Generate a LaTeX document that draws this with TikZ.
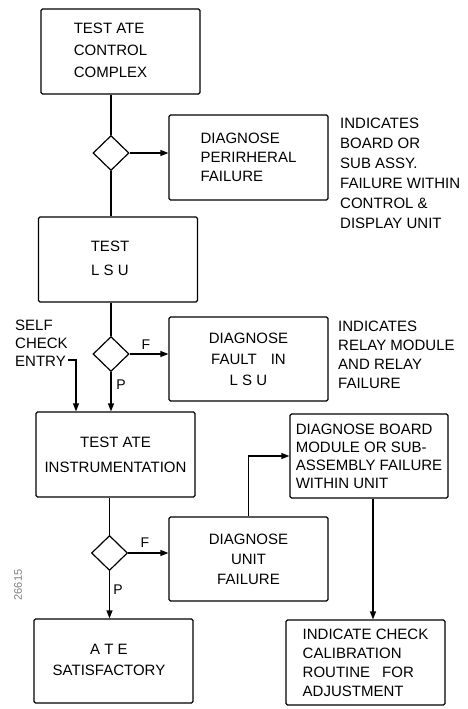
\documentclass[tikz,border=0pt]{standalone}
\usepackage{fontspec}
\setmainfont{Liberation Sans}
\usetikzlibrary{shapes.geometric,arrows.meta}
\begin{document}
\begin{tikzpicture}[x=1pt,y=-1pt,
  box/.style={draw,line width=1.2pt,rounded corners=1.5pt,minimum width=159pt,minimum height=85pt,inner sep=0pt,align=center,font=\fontsize{15}{20}\selectfont},
  dia/.style={draw,line width=1.2pt,shape=diamond,minimum width=36pt,minimum height=35pt,inner sep=0pt},
  conn/.style={line width=1.2pt},
  arr/.style={line width=1.2pt,-{Triangle[length=8pt,width=6pt]}},
  note/.style={align=left,inner sep=0pt,font=\fontsize{15}{20}\selectfont},
  lbl/.style={inner sep=0pt,font=\fontsize{14}{16}\selectfont}]
\useasboundingbox (0,0) rectangle (468,709);
\fill[white] (0,0) rectangle (468,709);

% boxes
\node[box] (b1) at (120.5,51.5) {\begin{tabular}{@{}l@{\hspace{20pt}}}TEST ATE\\[2pt]CONTROL\\[2pt]COMPLEX\end{tabular}};
\node[box,align=left,font=\fontsize{15}{19}\selectfont] (per) at (248.5,157.5) {DIAGNOSE\\PERIRHERAL\\FAILURE};
\node[box] (lsu) at (118,259.5) {\begin{tabular}{@{}c@{\hspace{16pt}}}TEST\\[4pt]L S U\end{tabular}};
\node[box,minimum height=84pt,font=\fontsize{15}{21}\selectfont] (flsu) at (248.5,359) {DIAGNOSE\\FAULT\hspace{14pt}IN\\L S U};
\node[box] (instr) at (115.5,454.5) {TEST ATE\\[5pt]INSTRUMENTATION};
\node[box,minimum height=84pt] (unit) at (248.5,559) {DIAGNOSE\\UNIT\\FAILURE};
\node[box,minimum width=158pt,minimum height=84pt,align=left,font=\fontsize{15}{18}\selectfont] (board) at (369,456) {DIAGNOSE BOARD\\MODULE OR SUB-\\ASSEMBLY FAILURE\\WITHIN UNIT};
\node[box,minimum height=84pt] (sat) at (113.5,661) {\begin{tabular}{@{}c@{\hspace{9pt}}}A T E\\[1pt]SATISFACTORY\end{tabular}};
\node[box,align=left,font=\fontsize{15}{19}\selectfont] (cal) at (365.5,662.5) {INDICATE CHECK\\CALIBRATION\\ROUTINE\hspace{12pt}FOR\\ADJUSTMENT};

% decisions
\node[dia] (d1) at (111,153) {};
\node[dia] (d2) at (111,354) {};
\node[dia] (d3) at (109.5,553) {};

% connectors
\draw[conn] (d1.north |- b1.south) -- (d1.north);
\draw[conn] (d1.south) -- (d1.south |- lsu.north);
\draw[arr] (d1.east) -- (d1.east -| per.west);
\draw[conn] (d2.north |- lsu.south) -- (d2.north);
\draw[arr] (d2.east) -- (d2.east -| flsu.west);
\draw[arr] (d2.south) -- (d2.south |- instr.north);
\draw[conn] (d3.north |- instr.south) -- (d3.north);
\draw[arr] (d3.east) -- (d3.east -| unit.west);
\draw[arr] (d3.south) -- (d3.south |- sat.north);
\draw[arr] (unit.north) |- (board.west);
\draw[arr] ([xshift=4pt]board.south) -- ([xshift=4pt]board.south |- cal.north);

% self check entry
\node[note,anchor=west,font=\fontsize{15}{18}\selectfont] (sc) at (15,343) {SELF\\CHECK\\ENTRY};
\coordinate (sce) at (68,360);
\draw[arr] (sce) -| ([xshift=-39.5pt]instr.north);

% branch labels
\node[lbl] (f1) at (146,345) {F};
\node[lbl] (p1) at (121,385) {P};
\node[lbl] (f2) at (145,543) {F};
\node[lbl] (p2) at (118,590) {P};

% notes
\node[note,anchor=west] (n1) at (340,173.5) {INDICATES\\BOARD OR\\SUB ASSY.\\FAILURE WITHIN\\CONTROL \&\\DISPLAY UNIT};
\node[note,anchor=west,font=\fontsize{15}{19}\selectfont] (n2) at (338,355) {INDICATES\\RELAY MODULE\\AND RELAY\\FAILURE};

% figure number
\node[rotate=90,inner sep=0pt,font=\fontsize{11}{12}\selectfont,text=gray] (fig) at (18,585) {26615};
\end{tikzpicture}
\end{document}
